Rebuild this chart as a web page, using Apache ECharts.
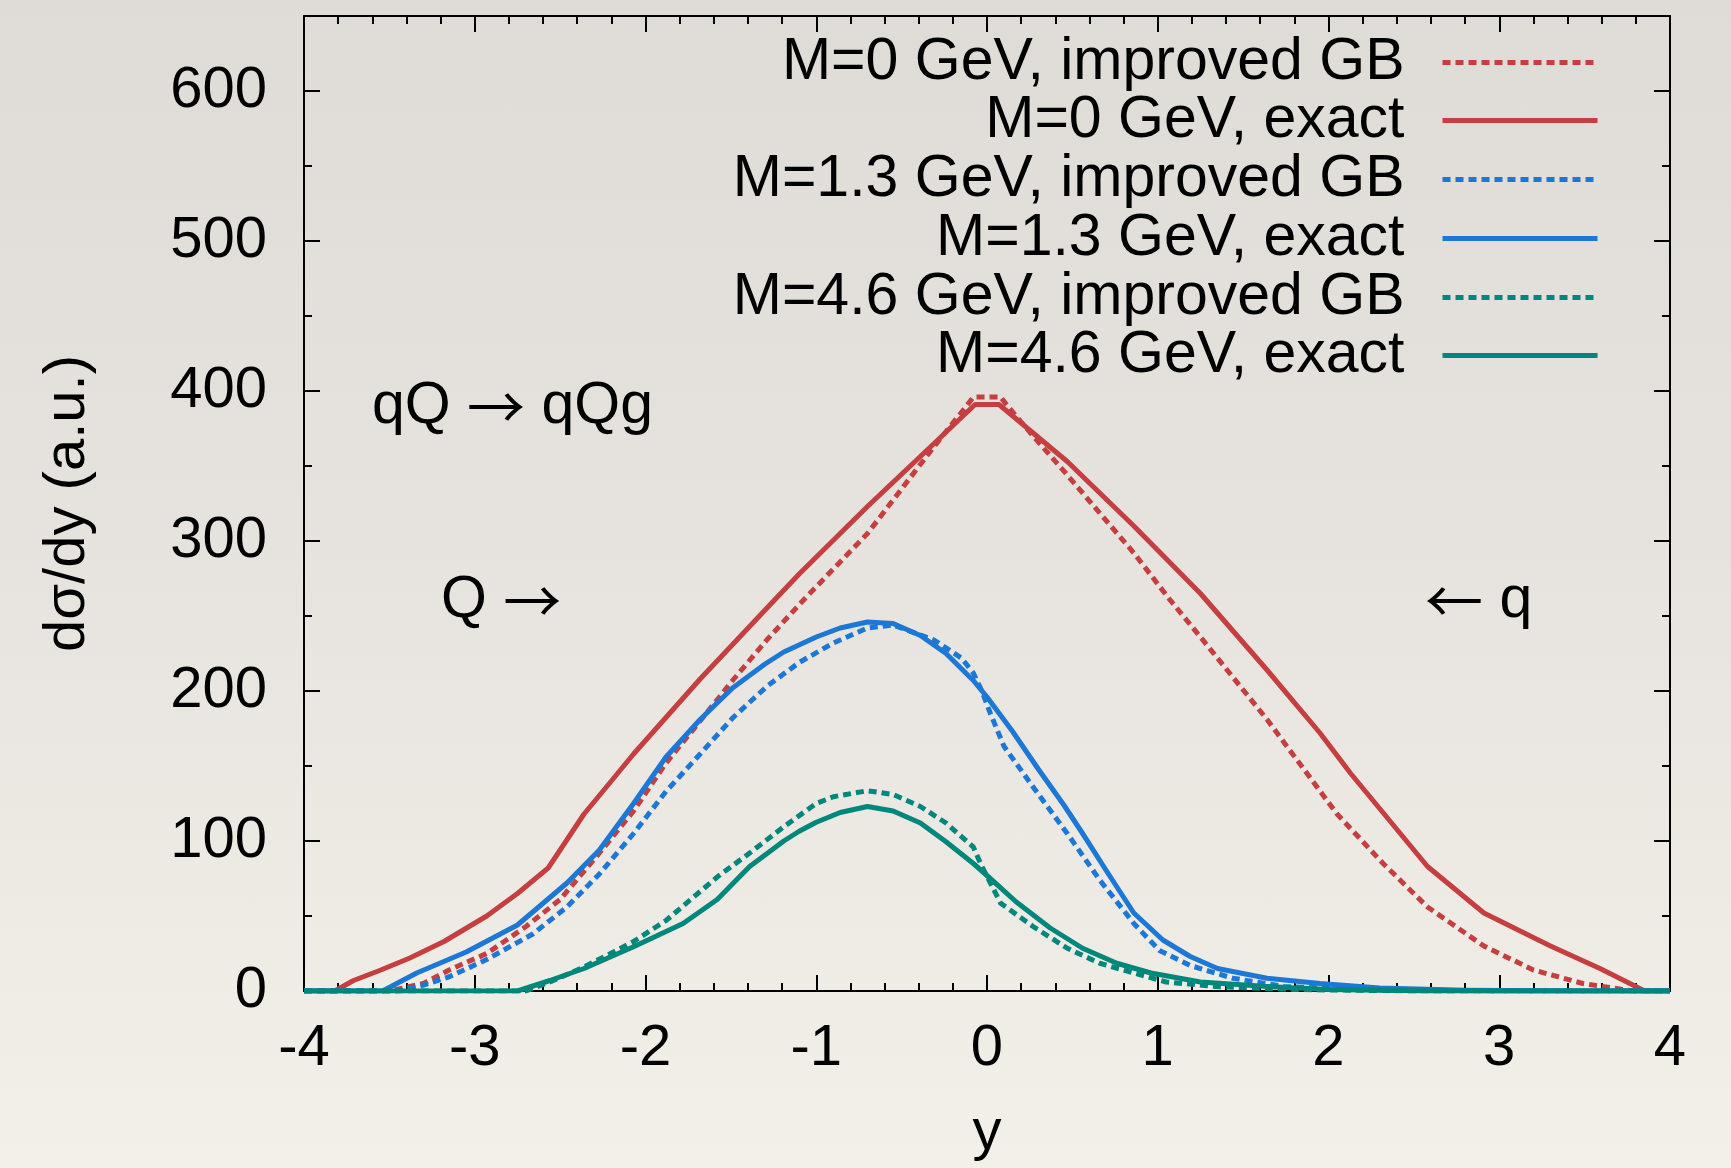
<!DOCTYPE html>
<html>
<head>
<meta charset="utf-8">
<script src="https://cdn.jsdelivr.net/npm/echarts@6/dist/echarts.min.js"></script>
<style>
  html, body { margin: 0; padding: 0; }
  body { width: 1731px; height: 1168px; background: linear-gradient(to bottom, #dfdcd7 0%, #e6e3de 45%, #f3f0ea 100%); }
  #chart { width: 1731px; height: 1168px; }
</style>
</head>
<body>
<div id="chart"></div>
<script>
// ---------- data ----------
const seriesNames = [
  'M=0 GeV, improved GB',
  'M=0 GeV, exact',
  'M=1.3 GeV, improved GB',
  'M=1.3 GeV, exact',
  'M=4.6 GeV, improved GB',
  'M=4.6 GeV, exact'
];

const m0GB = [[-4,0],[-3.5,0],[-3.3,5],[-3.15,14],[-2.93,25],[-2.7,43],[-2.5,61],[-2.27,92],[-2.07,120],[-1.88,152],[-1.68,180],[-1.49,207],[-1.29,234],[-1.08,260],[-0.7,305],[-0.31,363],[-0.12,390],[-0.08,396],[0.08,396],[0.12,390],[0.27,370],[0.47,344],[0.86,292],[1.07,261],[1.25,236],[1.64,181],[2.05,118],[2.32,85],[2.58,56],[2.91,30],[3.2,14],[3.49,5],[3.78,0],[4,0]];

const m0Exact = [[-4,0],[-3.82,0],[-3.71,7],[-3.55,14],[-3.38,22],[-3.18,33],[-2.93,50],[-2.75,65],[-2.57,82],[-2.36,118],[-2.2,140],[-2.07,158],[-1.68,208],[-1.25,260],[-1.1,278],[-0.7,323],[-0.31,365],[-0.07,391],[0.07,391],[0.47,353],[0.86,310],[1.25,265],[1.64,214],[1.95,172],[2.13,145],[2.58,83],[2.91,52],[3.3,30],[3.59,15],[3.8,3],[3.85,0],[4,0]];

const m13GB = [[-4,0],[-3.45,0],[-3.3,4],[-3.15,9.5],[-2.93,21],[-2.66,38],[-2.46,56],[-2.27,78],[-2.07,105],[-1.88,133],[-1.68,158],[-1.49,182],[-1.29,203],[-1.1,219],[-0.9,232],[-0.7,242],[-0.55,244],[-0.31,234],[-0.15,222],[-0.08,212],[-0.03,200],[0.02,185],[0.1,163],[0.27,136],[0.47,105],[0.66,74],[0.86,45],[1.01,27],[1.19,17],[1.44,8.5],[1.74,3],[2.2,1],[3,0],[4,0]];

const m13Exact = [[-4,0],[-3.54,0],[-3.34,12],[-3.05,26],[-2.75,44],[-2.46,72],[-2.27,94],[-2.07,125],[-1.88,156],[-1.68,181],[-1.49,202],[-1.3,218],[-1.19,226],[-1.0,236],[-0.86,242],[-0.7,246],[-0.55,245],[-0.39,237],[-0.24,225],[-0.08,207],[0,196],[0.15,173],[0.3,148],[0.45,124],[0.56,105],[0.7,80],[0.86,52],[1.03,34],[1.19,23],[1.35,15],[1.64,8.5],[1.95,5],[2.3,2],[2.8,0.5],[3.5,0],[4,0]];

const m46GB = [[-4,0],[-2.7,0],[-2.56,6],[-2.36,16],[-2.17,27],[-2.07,33],[-1.88,47],[-1.58,76],[-1.39,92],[-1.19,109.5],[-1.0,125],[-0.9,129.5],[-0.7,133.5],[-0.55,131],[-0.39,123],[-0.24,112],[-0.08,96],[-0.03,83],[0.02,72],[0.08,58.5],[0.27,43],[0.47,28.5],[0.66,18.5],[0.86,12],[1.05,6],[1.34,3],[1.8,1],[2.5,0],[4,0]];

const m46Exact = [[-4,0],[-2.75,0],[-2.56,7],[-2.36,15],[-2.07,29.5],[-1.78,45],[-1.58,61],[-1.39,83],[-1.19,100],[-1.1,106.5],[-1.0,112.5],[-0.86,119],[-0.7,123],[-0.55,120],[-0.39,112],[-0.24,99.5],[-0.08,85],[0,77],[0.17,59.5],[0.37,42],[0.56,28.5],[0.76,18.5],[0.96,12],[1.25,6],[1.64,3],[2.0,1],[2.6,0],[4,0]];

const seriesData = [m0GB, m0Exact, m13GB, m13Exact, m46GB, m46Exact];

const xTickLabels = ['-4','-3','-2','-1','0','1','2','3','4'];
const yTickLabels = ['0','100','200','300','400','500','600'];

// ---------- styling ----------
const FONT = '"Liberation Sans", Arial, Helvetica, sans-serif';
const ARROW_FONT = '"Noto Sans CJK SC", "DejaVu Sans", sans-serif';
const FS = 58;
const LEGEND_FS = 59;
const ANNO_FS = 59;
const colors = ['#c53f40', '#c53f40', '#1c78d4', '#1c78d4', '#00877c', '#00877c'];
const dashed = [true, false, true, false, true, false];
const DASH = [8, 5];
const LW = 5;
const legendTops = [33, 91, 150, 209, 268, 326];

const black = '#000';
const axisLineStyle = { color: black, width: 2 };

function xAxisDef(pos, showLabel) {
  return {
    type: 'value', position: pos, min: -4, max: 4, interval: 1,
    axisLine: { show: true, onZero: false, lineStyle: axisLineStyle },
    axisTick: { show: true, inside: true, length: 16, lineStyle: axisLineStyle },
    minorTick: { show: true, splitNumber: 5, length: 8, lineStyle: axisLineStyle },
    splitLine: { show: false },
    axisLabel: {
      show: showLabel, margin: 29, color: black, fontSize: FS, fontFamily: FONT, lineHeight: 58,
      formatter: v => { const i = Math.round(v + 4); return xTickLabels[i] !== undefined && Math.abs(v - Math.round(v)) < 1e-9 ? xTickLabels[i] : ''; }
    },
    name: showLabel ? 'y' : '', nameLocation: 'middle', nameGap: 113,
    nameTextStyle: { color: black, fontSize: FS, fontFamily: FONT, lineHeight: 58 }
  };
}

function yAxisDef(pos, interval, tickLen, showLabel, showLine) {
  return {
    type: 'value', position: pos, min: 0, max: 650, interval: interval,
    axisLine: { show: showLine, onZero: false, lineStyle: axisLineStyle },
    axisTick: { show: true, inside: true, length: tickLen, lineStyle: axisLineStyle },
    minorTick: { show: false },
    splitLine: { show: false },
    axisLabel: {
      show: showLabel, margin: 37, color: black, fontSize: FS, fontFamily: FONT, lineHeight: 58,
      formatter: v => (v % 100 === 0 && v <= 600) ? yTickLabels[v / 100] : ''
    },
    name: showLabel ? 'dσ/dy (a.u.)' : '', nameLocation: 'middle', nameGap: 207,
    nameTextStyle: { color: black, fontSize: FS, fontFamily: FONT, lineHeight: 58 }
  };
}

const series = seriesNames.map((name, i) => ({
  name: name,
  type: 'line',
  xAxisIndex: 0,
  yAxisIndex: 0,
  data: seriesData[i],
  symbol: 'none',
  smooth: false,
  z: 3 + i,
  lineStyle: { color: colors[i], width: LW, type: dashed[i] ? DASH : 'solid', cap: 'butt', join: 'round' },
  itemStyle: { color: colors[i] }
}));

const legends = seriesNames.map((name, i) => ({
  data: [name],
  orient: 'vertical',
  right: 131,
  top: legendTops[i],
  align: 'right',
  itemWidth: 155,
  itemHeight: 14,
  itemGap: 0,
  padding: 0,
  selectedMode: false,
  itemStyle: { color: 'rgba(0,0,0,0)', borderWidth: 0, opacity: 0 },
  lineStyle: { color: colors[i], width: LW, type: dashed[i] ? DASH : 'solid', cap: 'butt' },
  textStyle: { color: black, fontSize: LEGEND_FS, fontFamily: FONT, lineHeight: 56, padding: [0, 33, 0, 0] }
}));

const annoStyle = (text) => ({
  text: text,
  fill: black,
  font: ANNO_FS + 'px ' + FONT,
  rich: { a: { fontFamily: ARROW_FONT, fontSize: 58, fill: black } }
});

const chart = echarts.init(document.getElementById('chart'), null, { renderer: 'canvas' });
chart.setOption({
  backgroundColor: 'transparent',
  animation: false,
  grid: { left: 304, right: 61, top: 16, bottom: 177, containLabel: false },
  xAxis: [xAxisDef('bottom', true), xAxisDef('top', false)],
  yAxis: [
    yAxisDef('left', 100, 16, true, true),
    yAxisDef('left', 50, 8, false, false),
    yAxisDef('right', 100, 16, false, true),
    yAxisDef('right', 50, 8, false, false)
  ],
  legend: legends,
  series: series,
  graphic: [
    { type: 'text', left: 372, top: 377, style: annoStyle('qQ {a|→} qQg') },
    { type: 'text', left: 441, top: 571, style: annoStyle('Q {a|→}') },
    { type: 'text', left: 1425, top: 571, style: annoStyle('{a|←} q') }
  ]
});
</script>
</body>
</html>
